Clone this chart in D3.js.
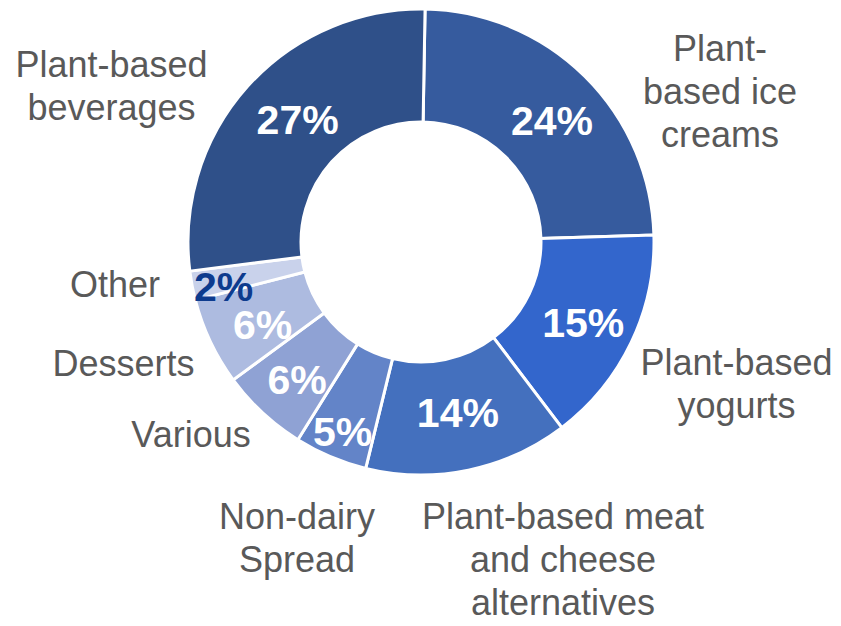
<!DOCTYPE html>
<html>
<head>
<meta charset="utf-8">
<script src="https://cdn.jsdelivr.net/npm/d3@7/dist/d3.min.js"></script>
<style>
  html, body { margin: 0; padding: 0; background: #ffffff; }
  svg { display: block; }
</style>
</head>
<body>
<svg id="chart" width="841" height="626"></svg>
<script>
// ---- data ----
const categories = [
  "Plant-based ice creams",
  "Plant-based yogurts",
  "Plant-based meat and cheese alternatives",
  "Non-dairy Spread",
  "Various",
  "Desserts",
  "Other",
  "Plant-based beverages"
];
const shares = [24, 15, 14, 5, 6, 6, 2, 27];
const labelLines = [
  ["Plant-", "based ice", "creams"],
  ["Plant-based", "yogurts"],
  ["Plant-based meat", "and cheese", "alternatives"],
  ["Non-dairy", "Spread"],
  ["Various"],
  ["Desserts"],
  ["Other"],
  ["Plant-based", "beverages"]
];

// ---- styles / layout ----
const sliceColors = ["#365B9E", "#3366CC", "#4470BE", "#6384C8", "#8FA2D4", "#ADBBE0", "#C9D2EB", "#2F5089"];
const pctColors   = ["#ffffff", "#ffffff", "#ffffff", "#ffffff", "#ffffff", "#ffffff", "#0D3B8E", "#ffffff"];
const pctNudge    = [[7, 4], [3, 4], [1, -3], [-10, 27], [-4, 8], [1, 7], [-24, 11], [8, -5]];
const catAnchor   = [[720, 61], [736.5, 375], [563, 529], [297, 529], [191, 447], [123.5, 376], [115, 297], [111.5, 77]];
const lineStep = 43;

const cx = 421, cy = 242, rOuter = 233, rInner = 120;
const startA = 1 * Math.PI / 180;

const svg = d3.select("#chart");
const g = svg.append("g").attr("transform", `translate(${cx},${cy})`);

const pie = d3.pie().sort(null).value(d => d)
  .startAngle(startA).endAngle(startA + 2 * Math.PI);
const arcs = pie(shares);

const arc = d3.arc().innerRadius(rInner).outerRadius(rOuter);
const labelArc = d3.arc().innerRadius((rInner + rOuter) / 2).outerRadius((rInner + rOuter) / 2);

g.selectAll("path.slice")
  .data(arcs)
  .enter().append("path")
  .attr("class", "slice")
  .attr("d", arc)
  .attr("fill", (d, i) => sliceColors[i])
  .attr("stroke", "#ffffff")
  .attr("stroke-width", 3)
  .attr("stroke-linejoin", "miter");

g.selectAll("text.pct")
  .data(arcs)
  .enter().append("text")
  .attr("class", "pct")
  .attr("transform", (d, i) => {
    const c = labelArc.centroid(d);
    return `translate(${c[0] + pctNudge[i][0]},${c[1] + pctNudge[i][1]})`;
  })
  .attr("text-anchor", "middle")
  .attr("dy", "0.36em")
  .attr("font-family", "'Liberation Sans', Arial, sans-serif")
  .attr("font-weight", "bold")
  .attr("font-size", 41)
  .attr("fill", (d, i) => pctColors[i])
  .text(d => d.data + "%");

const cat = svg.selectAll("text.cat")
  .data(categories)
  .enter().append("text")
  .attr("class", "cat")
  .attr("text-anchor", "middle")
  .attr("font-family", "'Liberation Sans', Arial, sans-serif")
  .attr("font-size", 36)
  .attr("fill", "#595959");

cat.each(function(d, i) {
  const t = d3.select(this);
  labelLines[i].forEach((ln, k) => {
    t.append("tspan")
      .attr("x", catAnchor[i][0])
      .attr("y", catAnchor[i][1] + k * lineStep)
      .text(ln);
  });
});
</script>
</body>
</html>
